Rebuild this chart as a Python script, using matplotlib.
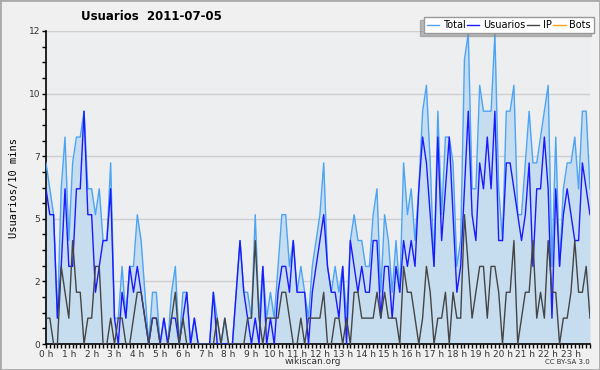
import matplotlib
matplotlib.use("Agg")
import matplotlib.pyplot as plt
from matplotlib.patches import Rectangle
import numpy as np

# one value per 10 minutes (144 slots)
usuarios = [6, 5, 5, 1, 3, 6, 3, 3, 6, 6, 9, 5,
            5, 2, 3, 4, 4, 6, 1, 0, 2, 1, 3, 2,
            3, 2, 1, 0, 1, 1, 0, 1, 0, 1, 1, 0,
            1, 2, 0, 1, 0, 0, 0, 0, 2, 0, 0, 0,
            0, 0, 2, 4, 2, 1, 0, 1, 0, 3, 0, 1,
            0, 2, 3, 3, 2, 4, 2, 2, 2, 0, 2, 3,
            4, 5, 3, 2, 2, 1, 3, 0, 4, 3, 2, 3,
            2, 2, 4, 4, 1, 3, 3, 1, 3, 2, 4, 3,
            4, 3, 6, 8, 7, 5, 3, 8, 4, 6, 8, 5,
            2, 3, 6, 9, 5, 4, 7, 6, 8, 6, 9, 4,
            4, 7, 7, 6, 5, 4, 5, 7, 3, 6, 6, 8,
            6, 1, 6, 3, 5, 6, 5, 4, 4, 7, 6, 5]
ip = [1, 1, 0, 0, 3, 2, 1, 4, 2, 2, 0, 1,
      1, 3, 3, 0, 0, 1, 0, 1, 1, 0, 0, 1,
      2, 2, 1, 0, 1, 1, 0, 0, 0, 1, 2, 0,
      1, 0, 0, 0, 0, 0, 0, 0, 0, 1, 0, 1,
      0, 0, 0, 0, 0, 1, 1, 4, 1, 0, 1, 1,
      1, 1, 2, 2, 1, 0, 0, 1, 0, 1, 1, 1,
      1, 2, 0, 0, 1, 1, 0, 1, 0, 2, 2, 1,
      1, 1, 1, 2, 1, 2, 1, 1, 1, 0, 3, 2,
      2, 1, 0, 1, 3, 2, 0, 1, 1, 2, 0, 2,
      1, 1, 5, 3, 1, 2, 3, 3, 1, 3, 3, 2,
      0, 2, 2, 4, 0, 1, 2, 2, 4, 1, 2, 1,
      4, 2, 2, 0, 1, 1, 2, 4, 2, 2, 3, 1]
total = [7, 6, 5, 1, 6, 8, 4, 7, 8, 8, 9, 6,
         6, 5, 6, 4, 4, 7, 1, 1, 3, 1, 3, 3,
         5, 4, 2, 0, 2, 2, 0, 1, 0, 2, 3, 0,
         2, 2, 0, 1, 0, 0, 0, 0, 2, 1, 0, 1,
         0, 0, 2, 4, 2, 2, 1, 5, 1, 3, 1, 2,
         1, 3, 5, 5, 3, 4, 2, 3, 2, 1, 3, 4,
         5, 7, 3, 2, 3, 2, 3, 1, 4, 5, 4, 4,
         3, 3, 5, 6, 2, 5, 4, 2, 4, 2, 7, 5,
         6, 4, 6, 9, 10, 7, 3, 9, 5, 8, 8, 7,
         3, 4, 11, 12, 6, 6, 10, 9, 9, 9, 12, 6,
         4, 9, 9, 10, 5, 5, 7, 9, 7, 7, 8, 9,
         10, 3, 8, 3, 6, 7, 7, 8, 6, 9, 9, 6]
bots = []
hour_labels = [f"{h} h" for h in range(24)]
ytick_labels = ["0", "2", "5", "7", "10", "12"]

c_total = "#4ca4f5"
c_fill = "#c6dcef"
c_users = "#1a1aff"
c_ip = "#454545"
c_bots = "#ffa31a"

x = np.arange(len(total))
ymax = 12.1

fig = plt.figure(figsize=(6, 3.7), dpi=100, facecolor="#f0f0f0")
fig.patches.append(Rectangle((0, 0), 1, 1, transform=fig.transFigure,
                             fill=False, edgecolor="#aaaaaa", linewidth=2))
ax = fig.add_axes([46 / 600, 1 - 344 / 370, 544 / 600, 313 / 370])
ax.set_facecolor("#edeef0")

ax.fill_between(x, total, 0, color=c_fill, linewidth=0, zorder=1)
ax.plot(x, total, color=c_total, lw=1.0, label="Total", zorder=3)
ax.plot(x, usuarios, color=c_users, lw=1.0, label="Usuarios", zorder=4)
ax.plot(x, ip, color=c_ip, lw=1.0, label="IP", zorder=5)
ax.plot(x[:len(bots)], bots, color=c_bots, lw=1.0, label="Bots")

ax.set_xlim(0, len(total) - 1)
ax.set_ylim(0, ymax)
ax.set_yticks(np.linspace(0, ymax, 6))
ax.set_yticklabels(ytick_labels)
ax.set_yticks(np.linspace(0, ymax, 21), minor=True)
ax.set_xticks(np.arange(0, 144, 6))
ax.set_xticklabels(hour_labels)
ax.set_xticks(np.arange(0, 144), minor=True)
ax.grid(axis="y", color="#cfcfcf", lw=1, zorder=0)
ax.set_axisbelow(True)
ax.tick_params(which="both", direction="out", length=3, width=1, colors="black",
               labelsize=6.5, labelcolor="#333333", pad=1)
for s in ["top", "right"]:
    ax.spines[s].set_visible(False)
ax.spines["left"].set_linewidth(1.2)
ax.spines["bottom"].set_linewidth(1.2)

ax.set_ylabel("Usuarios/10 mins", fontsize=7.5, family="DejaVu Sans Mono", labelpad=7)
fig.text(151 / 600, 1 - 17 / 370, "Usuarios  2011-07-05", ha="center", va="center",
         fontsize=8.5, fontweight="bold")

leg = ax.legend(loc="upper right", bbox_to_anchor=(594 / 600, 1 - 17 / 370),
                bbox_transform=fig.transFigure, ncol=4, fontsize=7, frameon=True,
                fancybox=False, handlelength=1.3, handletextpad=0.4, columnspacing=0.1,
                borderpad=0.3, borderaxespad=0,
                shadow={"ox": -2.5, "oy": -2.5, "shade": 0.5})
leg.get_frame().set_edgecolor("#999999")
leg.get_frame().set_linewidth(1)

fig.text(313 / 600, 1 - 362 / 370, "wikiscan.org", ha="center", va="center",
         fontsize=6.5, color="#333333")
fig.text(590 / 600, 1 - 362 / 370, "CC BY-SA 3.0", ha="right", va="center",
         fontsize=5, color="#333333")

fig.savefig("out.png", dpi=100, facecolor=fig.get_facecolor())
